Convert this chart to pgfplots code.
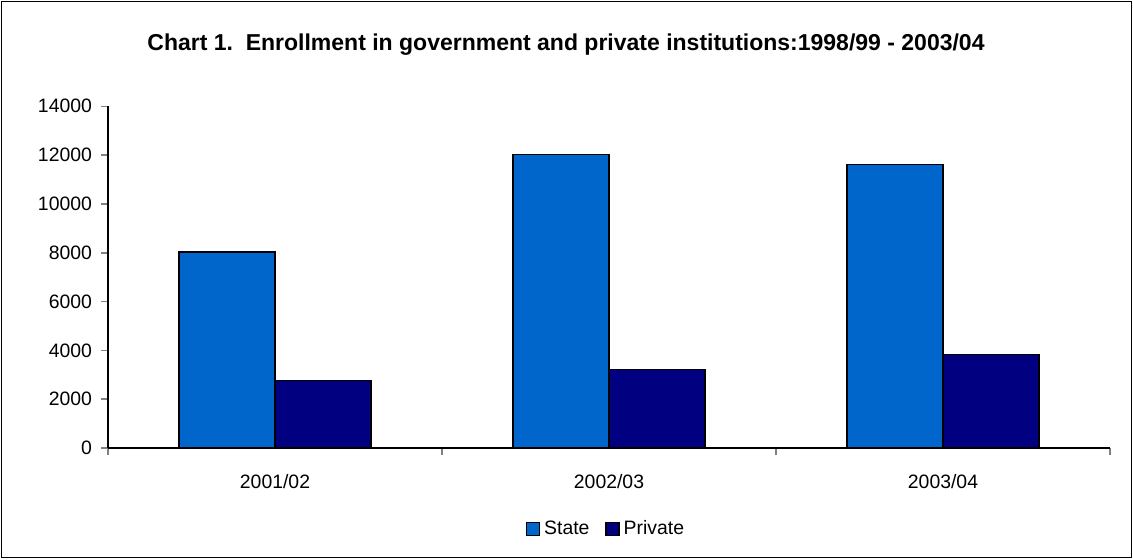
\documentclass[border=0pt]{standalone}
\usepackage{pgfplots}
\pgfplotsset{compat=1.18}
\usepackage{fontspec}
\setmainfont{Liberation Sans}
\definecolor{stateblue}{RGB}{0,102,204}
\definecolor{privnavy}{RGB}{0,0,128}
\begin{document}
\begin{tikzpicture}[x=1pt,y=1pt]
\useasboundingbox (0,0) rectangle (566.5,279.5);
\draw[line width=0.6pt] (0.6,0.6) rectangle (565.9,278.9);
\node[font=\bfseries\fontsize{11.5}{13}\selectfont] at (283,257) {Chart 1.\ \ Enrollment in government and private institutions:1998/99 - 2003/04};
\begin{axis}[
  at={(54pt,55.5pt)}, anchor=south west,
  scale only axis, width=501pt, height=170.85pt,
  xmin=-0.5, xmax=2.5, ymin=0, ymax=14000,
  axis x line=bottom, axis y line=left,
  axis line style={line width=0.8pt,-},
  ybar=0pt, bar width=48pt,
  xtick={0,1,2}, xticklabels={2001/02,2002/03,2003/04},
  major x tick style={draw=none},
  minor xtick={-0.5,0.5,1.5,2.5},
  minor x tick style={line width=0.8pt},
  minor tick length=3.5pt,
  ytick={0,2000,...,14000},
  major tick length=3.5pt,
  y tick style={line width=0.8pt},
  tick align=outside,
  scaled y ticks=false,
  /pgf/number format/assume math mode=true,
  yticklabel style={/pgf/number format/1000 sep={}},
  ticklabel style={font=\fontsize{9.7}{11}\selectfont},
  xticklabel style={yshift=-6pt},
  yticklabel style={xshift=-1pt},
  legend style={draw=none, at={(0.498,-0.237)}, anchor=center, legend columns=2,
    font=\fontsize{9.7}{11}\selectfont,
    /tikz/every even column/.append style={column sep=6pt}},
  legend image code/.code={\draw[#1,line width=0.7pt] (0pt,-3.2pt) rectangle (6.4pt,3.2pt);},
  legend cell align=left,
]
\addplot[fill=stateblue, draw=black, line width=0.7pt] coordinates {(0,8030) (1,12020) (2,11610)};
\addplot[fill=privnavy, draw=black, line width=0.7pt] coordinates {(0,2770) (1,3210) (2,3820)};
\legend{State,Private}
\end{axis}
\end{tikzpicture}
\end{document}
